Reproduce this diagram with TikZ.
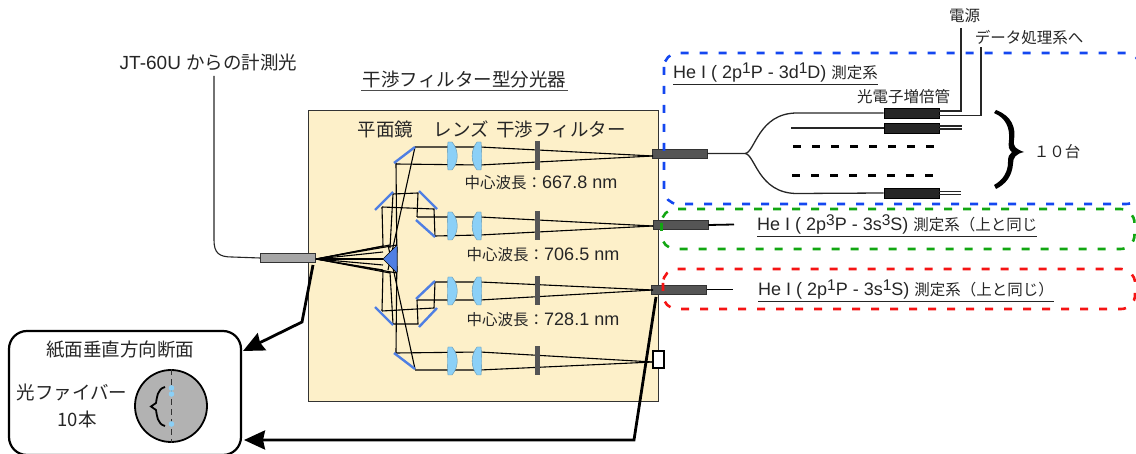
\documentclass[tikz,border=0pt]{standalone}
\usepackage{fontspec}
\setmainfont{Liberation Sans}
\newfontfamily\jp{Noto Sans CJK JP}
\newcommand{\jptext}[1]{{\fontsize{15.5}{17}\selectfont\jp #1}}
\newcommand{\upidx}[1]{\raisebox{5.5pt}{\fontsize{15.5}{15}\selectfont #1}}
\usepackage{tikz}
\usetikzlibrary{positioning,arrows.meta,calc}
\definecolor{boxcream}{HTML}{FDF0C9}
\definecolor{mirrorblue}{HTML}{4F7FE3}
\definecolor{lensblue}{HTML}{8BD0F7}
\definecolor{darkgrey}{HTML}{555555}
\definecolor{frameblue}{HTML}{1447F0}
\definecolor{framegreen}{HTML}{12A612}
\definecolor{framered}{HTML}{F51414}
\begin{document}
\begin{tikzpicture}[x=1pt,y=-1pt,font=\fontsize{18}{19}\selectfont,text=black!85,>={Stealth[]},
   ray/.style={draw=black,line width=1.1pt},
   mirror/.style={draw=mirrorblue,line width=2.4pt},
   fibre/.style={draw=black!85,line width=1.1pt},
   tube/.style={draw=black,fill=black!85,line width=0.7pt,minimum width=55pt,minimum height=10pt,inner sep=0pt},
   plug/.style={draw=black!80,fill=darkgrey,line width=0.7pt,minimum width=55pt,minimum height=9pt,inner sep=0pt},
   pointer/.style={draw=black,line width=2.8pt,-{Stealth[length=21pt,width=19pt,inset=2pt]}},
   caption/.style={inner sep=0pt,anchor=base west},
   title/.style={inner sep=0pt,font=\fontsize{18.5}{20}\selectfont\jp},
   small/.style={inner sep=0pt,font=\fontsize{15.5}{17}\selectfont\jp},
   dashframe/.style={line width=2.6pt,dash pattern=on 8pt off 11pt,rounded corners=14pt}]
  \useasboundingbox (0,0) rectangle (1136,454);
  % spectrometer housing
  \node[draw=black!80,fill=boxcream,line width=1pt,minimum width=350pt,minimum height=291pt,inner sep=0pt] (box) at (483,256.5) {};
  \node[title] (headmirror) at (385.5,129) {平面鏡};
  \node[title] (headlens) at (461.5,129) {レンズ};
  \node[title] (headfilter) at (561,129) {干渉フィルター};
  \node[title] (boxtitle) at (464.5,80) {干渉フィルター型分光器};
  \draw[black!70,line width=0.7pt] (361,90) coordinate (u1) -- (568,90) coordinate (u2);
  \node[inner sep=0pt] (wave1) at (541,183) {\jptext{中心波長：}667.8 nm};
  \node[inner sep=0pt] (wave2) at (543,255) {\jptext{中心波長：}706.5 nm};
  \node[inner sep=0pt] (wave3) at (543,320) {\jptext{中心波長：}728.1 nm};
  % fibres on the housing
  \node[plug,fill=black!35] (src) at (288,258) {};
  \node[plug] (out1) at (679.5,153.5) {};
  \node[plug] (out2) at (680.5,225) {};
  \node[plug] (out3) at (679,289.5) {};
  \node[draw=black,fill=white,line width=1.6pt,minimum width=11pt,minimum height=17pt,inner sep=0pt] (out4) at (658.5,359.5) {};
  \coordinate (srctip) at (316,259);
  \coordinate (tail2) at (734,224.5);
  \coordinate (tail3) at (733,289.5);
  \draw[black,line width=1.8pt] (out2.east) -- (tail2);
  \draw[black,line width=1.8pt] (out3.east) -- (tail3);
  % rays, fold by fold
  \foreach \a/\b in {383/246,390/245,397/245,383/252,383/259,383/265,383/270,390/273,397/273}
    \draw[ray] (srctip) -- (\a,\b);
  \draw[ray] (415,147) -- (388,270);
  \draw[ray] (396,163) -- (397,272);
  \draw[ray] (396,353) -- (397,247);
  \draw[ray] (415,369) -- (388,245);
  \draw[ray] (382,207) -- (383,246);
  \draw[ray] (393,194) -- (390,248);
  \draw[ray] (382,311) -- (383,270);
  \draw[ray] (393,324) -- (390,272);
  \draw[ray] (382,207) -- (434,209) -- (435,237);
  \draw[ray] (393,194) -- (418,193) -- (417,217);
  \draw[ray] (382,311) -- (434,308) -- (435,282);
  \draw[ray] (393,324) -- (418,324) -- (417,300);
  \foreach \yr/\yt/\yb/\xs/\xb/\ye in {156/147/164/415/396/156,
      226/217/236/417/435/226, 291/282/300/435/417/290, 361/353/370/396/415/362}{
    \draw[ray] (\xs,\yt) -- (480,\yr-9) -- (653,\ye);
    \draw[ray] (\xb,\yb) -- (480,\yr+9) -- (653,\ye);
  }
  % mirrors and prism
  \foreach \a/\b/\c/\d in {394/163/415/147,375/210/393/192,419/191/437/209,416/220/435/237,
      416/299/435/281,419/327/437/308,375/307/393/325,394/353/415/369}
    \draw[mirror] (\a,\b) -- (\c,\d);
  \fill[mirrorblue,draw=black,line width=0.4pt] (383,259) -- (397,245) -- (397,273) -- cycle;
  % lenses and filters
  \foreach \y in {156,226,291,361}{
    \draw[fill=lensblue,draw=lensblue!70!black,line width=0.4pt] (448,\y-14) .. controls (447,\y-5) and (447,\y+5) .. (448,\y+14)
      -- (452,\y+14) .. controls (459,\y+6) and (459,\y-6) .. (452,\y-14) -- cycle;
    \draw[fill=lensblue,draw=lensblue!70!black,line width=0.4pt] (481,\y-14) .. controls (482,\y-5) and (482,\y+5) .. (481,\y+14)
      -- (477,\y+14) .. controls (470.5,\y+6) and (470.5,\y-6) .. (477,\y-14) -- cycle;
    \fill[darkgrey] (534.5,\y-14.5) rectangle (540,\y+14.5);
  }
  % source fibre
  \node[inner sep=0pt] (jt) at (208.5,63) {\fontsize{19}{20}\selectfont JT-60U {\fontsize{18.5}{20}\selectfont\jp からの計測光}};
  \coordinate (jtfoot) at (214,76);
  \draw[fibre] (jtfoot) -- (214,240) .. controls (214,253) and (219,257) .. (232,257) -- (src.west);
  % detector groups
  \draw[dashframe,draw=frameblue] (664,53) rectangle (1140,204);
  \draw[dashframe,draw=framegreen] (661.5,209) rectangle (1134.5,249);
  \draw[dashframe,draw=framered] (663,269) rectangle (1135,309);
  \node[caption] (lab1) at (673,79) {\underline{He I ( 2p\upidx{1}P - 3d\upidx{1}D) \jptext{測定系}}};
  \node[caption] (lab2) at (757,231) {\underline{He I ( 2p\upidx{3}P - 3s\upidx{3}S) \jptext{測定系（上と同じ}}};
  \node[caption] (lab3) at (758,296) {\underline{He I ( 2p\upidx{1}P - 3s\upidx{1}S) \jptext{測定系（上と同じ）}}};
  \node[tube] (pmt1) at (911.5,113) {};
  \node[tube] (pmt2) at (911.5,128) {};
  \node[tube] (pmt3) at (911.5,193) {};
  \node[small] (pmtlab) at (903.5,97) {光電子増倍管};
  \node[small] (power) at (964.5,16) {電源};
  \node[small] (daq) at (1029,38) {データ処理系へ};
  \node[small] (ten) at (1057,152) {１０台};
  \coordinate (split) at (745,153.5);
  \draw[fibre,line width=1.3pt] (out1.east) -- (split) .. controls (755,153) and (758,113) .. (797,113) -- (pmt1.west);
  \draw[fibre,line width=1.3pt] (split) .. controls (755,154) and (758,193.5) .. (797,193.5) -- (pmt3.west);
  \draw[fibre] (791,128) -- (pmt2.west);
  \draw[fibre] (939,111) -- (961,111) -- (961,28);
  \draw[fibre] (939,115.5) -- (981,115.5) -- (981,47);
  \draw[fibre] (939,126) -- (962,126);
  \draw[fibre] (939,129) -- (962,129);
  \draw[fibre] (939,191.5) -- (961,191.5);
  \draw[fibre] (939,194.5) -- (961,194.5);
  \draw[black,line width=2.4pt,dash pattern=on 8pt off 11pt] (793,146.5) -- (936,146.5);
  \draw[black,line width=2.4pt,dash pattern=on 8pt off 11pt] (792,175.5) -- (935,175.5);
  % big brace
  \fill[black] (996,110) .. controls (1012,116) and (1016,128) .. (1014,140) .. controls (1013,147) and (1016,149) .. (1024,152)
     .. controls (1016,154) and (1013,157) .. (1013,164) .. controls (1012,176) and (1006,184) .. (996,189) -- (994,185)
     .. controls (1003,180) and (1008,172) .. (1008,162) .. controls (1008,157) and (1009,154) .. (1012,152)
     .. controls (1009,150) and (1008,147) .. (1009,140) .. controls (1010,128) and (1006,118) .. (994,113) -- cycle;
  % section inset
  \node[draw=black,line width=2.2pt,rounded corners=18pt,minimum width=232pt,minimum height=124pt,inner sep=0pt] (inset) at (125,393) {};
  \node[title] (insettitle) at (120,350) {紙面垂直方向断面};
  \node[title] (fibrelab) at (72,392) {光ファイバー};
  \node[title] (fibrecount) at (77,419) {10本};
  \node[circle,draw=black,fill=black!30,line width=1.8pt,minimum size=72pt,inner sep=0pt] (sect) at (171,406) {};
  \draw[black!80,line width=0.7pt,dash pattern=on 6pt off 4pt] (sect.north) -- (sect.south);
  \foreach \y in {388,394,424}
    \fill[lensblue] (171.5,\y) circle (2.8pt);
  \draw[black,line width=1.8pt] (165,387) .. controls (157,389) and (157,398) .. (156,403) -- (151,406.5) -- (156,410) .. controls (157,415) and (157,424) .. (165,426);
  % pointers to the inset
  \coordinate (srcfoot) at (313,265);
  \coordinate (srcbend) at (302,322);
  \coordinate (insetup) at (243,351);
  \coordinate (outfoot) at (656,297);
  \coordinate (outbend) at (634,440);
  \coordinate (insetlow) at (244,440);
  \draw[pointer] (srcfoot) -- (srcbend) -- (insetup);
  \draw[pointer] (outfoot) -- (outbend) -- (insetlow);
\end{tikzpicture}
\end{document}
